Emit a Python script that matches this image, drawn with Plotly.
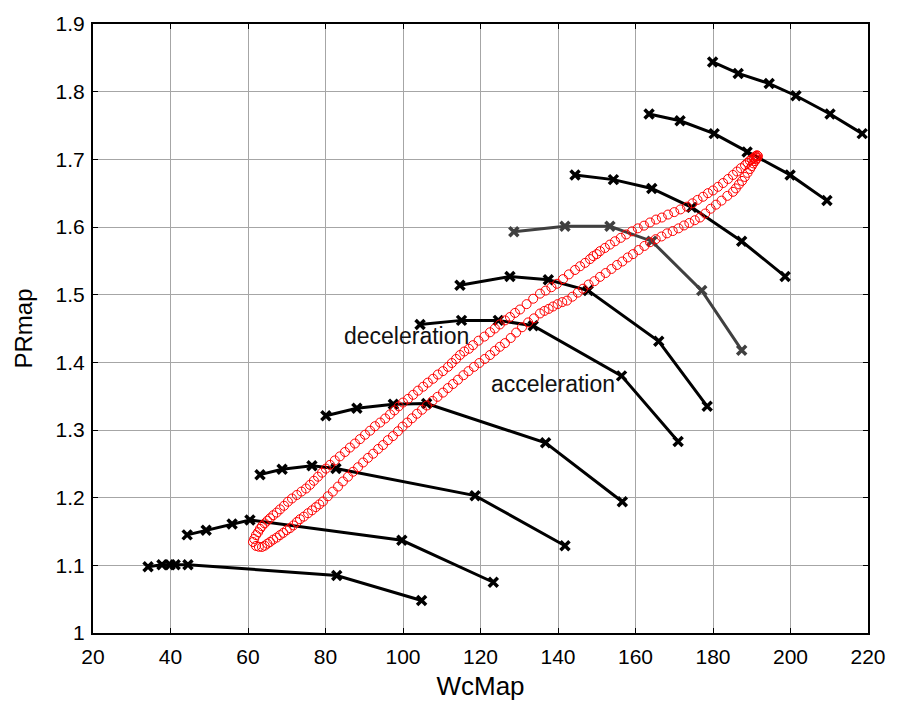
import plotly.graph_objects as go

# ---- speed lines of the compressor map (WcMap, PRmap) ----
s1_x = [34.2, 37.8, 39.9, 41.2, 44.5, 82.9, 104.8]
s1_y = [1.098, 1.101, 1.101, 1.101, 1.101, 1.085, 1.048]
s2_x = [44.3, 49.2, 55.9, 60.5, 99.7, 123.3]
s2_y = [1.145, 1.152, 1.161, 1.167, 1.137, 1.075]
s3_x = [63.1, 68.8, 76.5, 82.7, 118.6, 141.8]
s3_y = [1.234, 1.242, 1.247, 1.243, 1.203, 1.129]
s4_x = [80.1, 88.1, 97.5, 106.1, 136.8, 156.6]
s4_y = [1.321, 1.332, 1.338, 1.339, 1.281, 1.194]
s5_x = [104.4, 115.1, 124.6, 133.6, 156.4, 171.0]
s5_y = [1.456, 1.462, 1.462, 1.454, 1.380, 1.283]
s6_x = [114.7, 127.6, 137.5, 147.8, 166.0, 178.5]
s6_y = [1.514, 1.527, 1.522, 1.506, 1.431, 1.335]
s7_x = [128.6, 141.8, 153.4, 164.2, 177.1, 187.4]   # grey line
s7_y = [1.593, 1.601, 1.601, 1.579, 1.506, 1.418]
s8_x = [144.4, 154.3, 164.2, 174.5, 187.4, 198.6]
s8_y = [1.677, 1.670, 1.657, 1.629, 1.579, 1.527]
s9_x = [163.5, 171.5, 180.3, 188.8, 199.9, 209.4]
s9_y = [1.767, 1.757, 1.738, 1.711, 1.677, 1.639]
s10_x = [179.9, 186.5, 194.5, 201.4, 210.2, 218.5]
s10_y = [1.844, 1.827, 1.812, 1.794, 1.767, 1.738]

# ---- operating trajectory (red circles) ----
# upper branch (deceleration)
dec_x = [61.29, 61.6, 62.06, 62.6, 63.1, 63.61, 64.3, 65.0, 65.68, 66.5, 67.4,
         68.26, 69.3, 70.3, 71.35, 72.6, 73.8, 74.97, 76.0, 77.0, 78.06, 79.1, 80.1,
         81.16, 82.4, 83.7, 85.03, 86.3, 87.6, 88.9, 90.2, 91.5, 92.77, 94.1, 95.4,
         96.65, 97.8, 98.9, 100.0, 101.3, 102.6, 103.87, 105.2, 106.4, 107.74, 109.0,
         110.3, 111.61, 112.6, 113.7, 114.71, 115.8, 117.0, 118.06, 119.5, 121.0,
         122.45, 123.7, 125.0, 126.32, 127.6, 128.9, 130.19, 131.9, 133.6, 135.35,
         136.8, 138.3, 139.74, 141.3, 142.8, 144.39, 145.7, 147.0, 148.26, 149.1,
         150.0, 150.84, 152.1, 153.4, 154.71, 156.2, 157.6, 159.1, 160.6, 162.2,
         163.74, 165.3, 166.8, 168.39, 170.0, 171.6, 173.29, 174.7, 176.0, 177.42,
         178.7, 180.0, 181.29, 182.6, 183.9, 185.16, 186.2, 187.2, 188.26, 188.9,
         189.5, 190.06, 190.5, 190.9, 191.1, 191.35]
dec_y = [1.1345, 1.139, 1.1447, 1.149, 1.154, 1.1579, 1.162, 1.166, 1.1696, 1.174,
         1.178, 1.1827, 1.188, 1.194, 1.1988, 1.204, 1.209, 1.2135, 1.219, 1.225,
         1.231, 1.237, 1.243, 1.2485, 1.255, 1.261, 1.2675, 1.274, 1.28, 1.2865,
         1.293, 1.299, 1.3056, 1.311, 1.317, 1.3231, 1.329, 1.335, 1.3406, 1.346,
         1.352, 1.3582, 1.364, 1.37, 1.3757, 1.382, 1.387, 1.3933, 1.399, 1.405,
         1.4108, 1.416, 1.42, 1.4254, 1.432, 1.438, 1.4444, 1.45, 1.456, 1.462,
         1.467, 1.473, 1.4781, 1.486, 1.494, 1.5015, 1.506, 1.511, 1.5161, 1.523,
         1.53, 1.5365, 1.542, 1.547, 1.5526, 1.557, 1.56, 1.5643, 1.569, 1.574,
         1.5789, 1.584, 1.589, 1.5936, 1.598, 1.602, 1.6067, 1.611, 1.614, 1.6184,
         1.622, 1.626, 1.6301, 1.635, 1.64, 1.6447, 1.65, 1.654, 1.6594, 1.665,
         1.671, 1.6769, 1.682, 1.687, 1.6915, 1.695, 1.698, 1.7003, 1.702, 1.704,
         1.705, 1.7061]
# lower branch (acceleration)
acc_x = [62.06, 62.8, 63.61, 64.3, 65.0, 65.68, 66.5, 67.4, 68.26, 69.1, 70.0,
         70.84, 71.7, 72.6, 73.42, 74.4, 75.5, 76.52, 77.5, 78.4, 79.35, 80.6, 81.9,
         83.23, 84.5, 85.8, 87.1, 88.4, 89.7, 90.97, 92.3, 93.6, 94.84, 96.1, 97.4,
         98.71, 99.9, 101.1, 102.32, 103.6, 104.9, 106.19, 107.6, 108.9, 110.32,
         111.6, 112.9, 114.19, 115.6, 116.9, 118.32, 119.7, 121.1, 122.45, 123.7,
         125.0, 126.32, 127.8, 129.2, 130.71, 132.3, 133.8, 135.35, 136.5, 137.6,
         138.71, 139.9, 141.1, 142.32, 143.7, 145.1, 146.45, 147.9, 149.4, 150.84,
         152.3, 153.8, 155.23, 156.6, 158.0, 159.35, 160.8, 162.3, 163.74, 165.2,
         166.7, 168.13, 169.6, 171.1, 172.52, 173.9, 175.3, 176.65, 178.0, 179.4,
         180.77, 182.2, 183.7, 185.16, 185.9, 186.7, 187.48, 188.2, 188.9, 189.55,
         190.0, 190.4, 190.84, 191.1, 191.4, 191.61]
acc_y = [1.1287, 1.1275, 1.1272, 1.129, 1.132, 1.1345, 1.138, 1.141, 1.1447, 1.148,
         1.152, 1.155, 1.159, 1.164, 1.1681, 1.172, 1.177, 1.1813, 1.186, 1.19,
         1.1944, 1.202, 1.209, 1.2164, 1.224, 1.231, 1.2383, 1.245, 1.252, 1.2588,
         1.265, 1.272, 1.2778, 1.285, 1.291, 1.2982, 1.305, 1.311, 1.3173, 1.324,
         1.33, 1.3363, 1.343, 1.349, 1.3553, 1.362, 1.368, 1.3743, 1.381, 1.387,
         1.3933, 1.399, 1.405, 1.4108, 1.417, 1.423, 1.4284, 1.436, 1.444, 1.4518,
         1.459, 1.465, 1.4722, 1.476, 1.479, 1.4825, 1.486, 1.489, 1.4912, 1.497,
         1.503, 1.5088, 1.515, 1.52, 1.5263, 1.532, 1.538, 1.5439, 1.549, 1.555,
         1.5599, 1.566, 1.572, 1.5775, 1.582, 1.586, 1.5906, 1.594, 1.598, 1.6023,
         1.606, 1.61, 1.614, 1.62, 1.627, 1.633, 1.639, 1.646, 1.652, 1.657, 1.663,
         1.6681, 1.674, 1.68, 1.6857, 1.69, 1.694, 1.6974, 1.7, 1.702, 1.7047]

x_ticks = [20, 40, 60, 80, 100, 120, 140, 160, 180, 200, 220]
y_ticks = [1.0, 1.1, 1.2, 1.3, 1.4, 1.5, 1.6, 1.7, 1.8, 1.9]
y_labels = ["1", "1.1", "1.2", "1.3", "1.4", "1.5", "1.6", "1.7", "1.8", "1.9"]

FONT = "Liberation Sans, Arial, sans-serif"

fig = go.Figure()

speed_lines = [(s1_x, s1_y, "black"), (s2_x, s2_y, "black"), (s3_x, s3_y, "black"),
               (s4_x, s4_y, "black"), (s5_x, s5_y, "black"), (s6_x, s6_y, "black"),
               (s7_x, s7_y, "#404040"), (s8_x, s8_y, "black"), (s9_x, s9_y, "black"),
               (s10_x, s10_y, "black")]
for xs, ys, col in speed_lines:
    fig.add_trace(go.Scatter(
        x=xs, y=ys, mode="lines+markers",
        line=dict(color=col, width=3),
        marker=dict(symbol="x-thin", size=9, color=col, line=dict(color=col, width=3.5)),
        showlegend=False, hoverinfo="skip"))

for xs, ys in [(acc_x, acc_y), (dec_x, dec_y)]:
    fig.add_trace(go.Scatter(
        x=xs, y=ys, mode="markers",
        marker=dict(symbol="circle-open", size=9, color="red", line=dict(color="red", width=1)),
        showlegend=False, hoverinfo="skip"))

fig.add_annotation(x=101.0, y=1.4386, text="deceleration", showarrow=False,
                   font=dict(family=FONT, size=23, color="#111111"))
fig.add_annotation(x=138.7, y=1.368, text="acceleration", showarrow=False,
                   font=dict(family=FONT, size=23, color="#111111"))

axis_common = dict(showgrid=True, gridcolor="#a6a6a6", gridwidth=1,
                   showline=True, linecolor="black", linewidth=2, mirror="ticks",
                   ticks="inside", ticklen=5, tickcolor="black", zeroline=False,
                   tickfont=dict(family=FONT, size=21, color="black"))

fig.update_xaxes(range=[20, 220], tickvals=x_ticks, ticklabelstandoff=4,
                 title=dict(text="WcMap", font=dict(family=FONT, size=26, color="black"), standoff=10),
                 **axis_common)
fig.update_yaxes(range=[1.0, 1.9], tickvals=y_ticks, ticktext=y_labels, ticklabelstandoff=2,
                 title=dict(text="PRmap", font=dict(family=FONT, size=24, color="black"), standoff=16),
                 **axis_common)

fig.update_layout(width=900, height=708, autosize=False,
                  margin=dict(l=93, r=32, t=17, b=75),
                  plot_bgcolor="white", paper_bgcolor="white",
                  font=dict(family=FONT, color="black"))

fig.write_html("out.html")
